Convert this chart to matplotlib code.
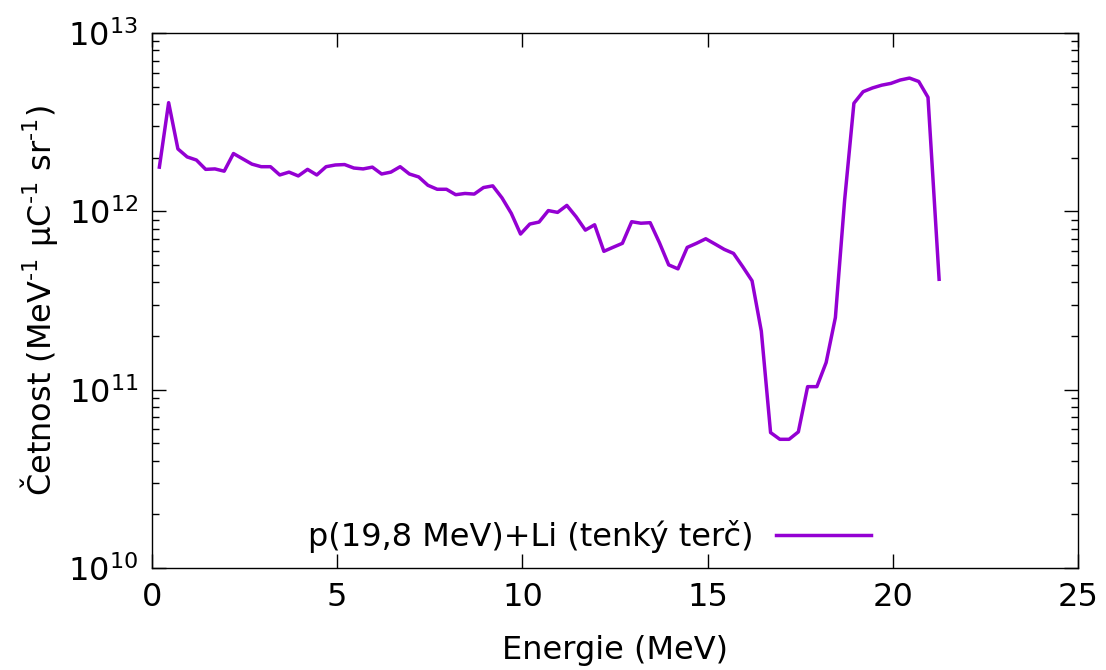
import matplotlib
matplotlib.use("Agg")
import matplotlib.pyplot as plt
from matplotlib.ticker import LogLocator, MultipleLocator, NullLocator

# energy grid (MeV) and yield (MeV^-1 uC^-1 sr^-1)
energie = [
    0.2, 0.45, 0.7, 0.95, 1.2, 1.45, 1.7, 1.95, 2.2, 2.45,
    2.7, 2.95, 3.2, 3.45, 3.7, 3.95, 4.2, 4.45, 4.7, 4.95,
    5.2, 5.45, 5.7, 5.95, 6.2, 6.45, 6.7, 6.95, 7.2, 7.45,
    7.7, 7.95, 8.2, 8.45, 8.7, 8.95, 9.2, 9.45, 9.7, 9.95,
    10.2, 10.45, 10.7, 10.95, 11.2, 11.45, 11.7, 11.95, 12.2, 12.45,
    12.7, 12.95, 13.2, 13.45, 13.7, 13.95, 14.2, 14.45, 14.7, 14.95,
    15.2, 15.45, 15.7, 15.95, 16.2, 16.45, 16.7, 16.95, 17.2, 17.45,
    17.7, 17.95, 18.2, 18.45, 18.7, 18.95, 19.2, 19.45, 19.7, 19.95,
    20.2, 20.45, 20.7, 20.95, 21.25,
]
cetnost = [
    1.77e12, 4.07e12, 2.24e12, 2.02e12, 1.94e12, 1.72e12, 1.73e12, 1.68e12, 2.11e12, 1.97e12,
    1.84e12, 1.78e12, 1.78e12, 1.60e12, 1.66e12, 1.58e12, 1.72e12, 1.60e12, 1.78e12, 1.82e12,
    1.83e12, 1.75e12, 1.73e12, 1.77e12, 1.62e12, 1.66e12, 1.78e12, 1.62e12, 1.56e12, 1.40e12,
    1.33e12, 1.33e12, 1.24e12, 1.26e12, 1.25e12, 1.36e12, 1.39e12, 1.19e12, 9.75e11, 7.46e11,
    8.49e11, 8.71e11, 1.01e12, 9.87e11, 1.08e12, 9.33e11, 7.85e11, 8.41e11, 5.97e11, 6.29e11,
    6.62e11, 8.75e11, 8.58e11, 8.64e11, 6.67e11, 5.01e11, 4.76e11, 6.28e11, 6.62e11, 7.02e11,
    6.56e11, 6.12e11, 5.81e11, 4.89e11, 4.08e11, 2.13e11, 5.75e10, 5.27e10, 5.27e10, 5.80e10,
    1.04e11, 1.04e11, 1.42e11, 2.54e11, 1.16e12, 4.04e12, 4.69e12, 4.92e12, 5.10e12, 5.22e12,
    5.45e12, 5.59e12, 5.35e12, 4.36e12, 4.16e11,
]
popisek = "p(19,8 MeV)+Li (tenký terč)"

plt.rcParams["font.family"] = ["DejaVu Sans"]
plt.rcParams["font.size"] = 23

fig = plt.figure(figsize=(11.06, 6.70), dpi=100)
fig.subplots_adjust(left=0.1374, right=0.9747, top=0.9507, bottom=0.1522)
ax = fig.add_subplot(111)

ax.plot(energie, cetnost, color="#9400d3", lw=2.5, label=popisek)

ax.set_yscale("log")
ax.set_xlim(0, 25)
ax.set_ylim(1e10, 1e13)
ax.xaxis.set_major_locator(MultipleLocator(5))
ax.xaxis.set_minor_locator(NullLocator())
ax.yaxis.set_major_locator(LogLocator(base=10, numticks=10))
ax.yaxis.set_minor_locator(LogLocator(base=10, subs=range(2, 10), numticks=20))

ax.tick_params(which="both", direction="in", top=True, right=True, width=1.0)
ax.tick_params(which="major", length=10, labelsize=23, pad=10)
ax.tick_params(which="minor", length=5)
for s in ax.spines.values():
    s.set_linewidth(1.0)

ax.set_xlabel("Energie (MeV)", fontsize=23, labelpad=16)
ax.set_ylabel("Četnost (MeV$^{\\text{-1}}$ μC$^{\\text{-1}}$ sr$^{\\text{-1}}$)",
              fontsize=23, labelpad=6)

ax.legend(loc="center right", bbox_to_anchor=(0.776, 0.058), frameon=False,
          markerfirst=False, handlelength=2.95, handletextpad=0.72,
          borderpad=0, borderaxespad=0, fontsize=23)

fig.savefig("out.png", dpi=100)
